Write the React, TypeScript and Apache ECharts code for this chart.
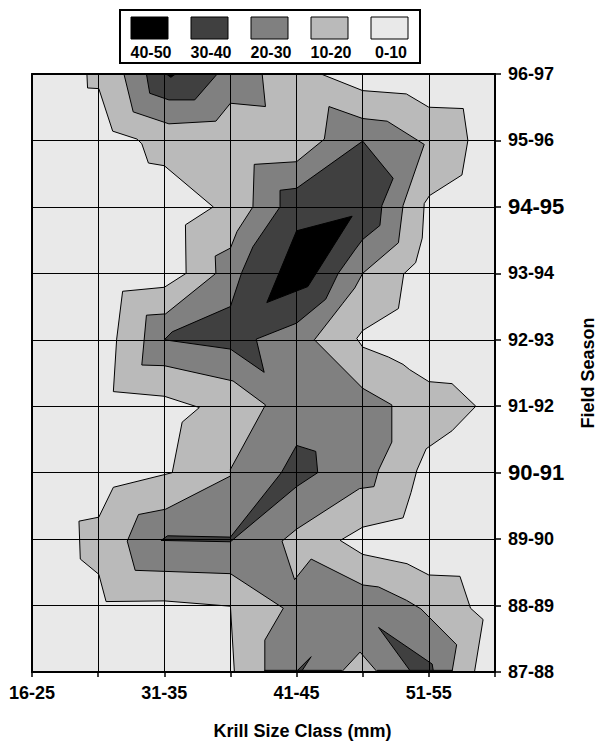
import React, { useEffect, useRef } from "react";
import * as echarts from "echarts";

// ---- data ----
const sizeClasses = ["16-25", "26-30", "31-35", "36-40", "41-45", "46-50", "51-55", "56-60"];
const seasons = ["87-88", "88-89", "89-90", "90-91", "91-92", "92-93", "93-94", "94-95", "95-96", "96-97"];
const emphasisSeasons = ["94-95", "90-91"];
const bandLabels = ["0-10", "10-20", "20-30", "30-40", "40-50"];
const bandColors = ["#e9e9e9", "#bababa", "#808080", "#404040", "#000000"];

// contour polygons, in [size class index, season index] units
const above0 = [
  [[0, 0], [7, 0], [7, 9], [0, 9]],
];
const above10 = [
  [
    [0.83, 9], [4.37, 9], [5.0, 8.75], [5.66, 8.7], [6.0, 8.5], [6.52, 8.48], [6.59, 8.0], [6.5, 7.48],
    [6.01, 7.17], [5.93, 7.05], [5.9, 6.53], [5.8, 6.16], [5.62, 5.99], [5.54, 5.47], [5.0, 5.14],
    [4.91, 5.02], [5.0, 4.89], [5.39, 4.74], [5.61, 4.63], [5.71, 4.55], [6.0, 4.37], [6.35, 4.34],
    [6.71, 4.0], [6.35, 3.63], [5.96, 3.36], [5.82, 3.04], [5.73, 2.7], [5.61, 2.32], [5.0, 2.18],
    [4.66, 1.98], [5.0, 1.77], [5.67, 1.63], [6.0, 1.46], [6.47, 1.44], [6.63, 0.96], [6.82, 0.79],
    [6.69, 0], [3.06, 0], [3.0, 0.99], [2.0, 1.07], [1.12, 1.06], [1.01, 1.47], [0.73, 1.7],
    [0.71, 2.27], [1.01, 2.33], [1.23, 2.78], [2.12, 3.0], [2.27, 3.76], [2.53, 3.98], [2.0, 4.15],
    [1.23, 4.22], [1.28, 5.01], [1.37, 5.73], [2.0, 5.79], [2.33, 6.0], [2.32, 6.73], [2.74, 7.0],
    [2.0, 7.62], [1.76, 7.66], [1.66, 7.95], [1.59, 8.02], [1.22, 8.14], [1.01, 8.78], [0.84, 8.79],
  ],
];
const above20 = [
  [[1.39, 9], [3.48, 9], [3.53, 8.51], [3.0, 8.56], [2.78, 8.29], [2.07, 8.25], [1.53, 8.43]],
  [
    [4.49, 8.51], [5.0, 8.33], [5.37, 8.29], [5.93, 7.94], [5.61, 7.02], [5.54, 6.46], [5.0, 6.0],
    [4.88, 5.78], [4.7, 5.55], [4.27, 5.0], [5.0, 4.27], [5.44, 4.02], [5.44, 3.46], [5.24, 3.04],
    [5.17, 2.79], [4.95, 2.76], [4.0, 2.15], [3.78, 1.97], [3.97, 1.39], [4.22, 1.7], [5.0, 1.31],
    [5.24, 1.28], [5.66, 1.08], [5.88, 0.95], [6.42, 0.41], [6.35, 0], [5.22, 0], [4.96, 0.3],
    [4.68, 0], [3.52, 0], [3.52, 0.48], [3.8, 0.96], [3.0, 1.48], [1.56, 1.53], [1.44, 1.97],
    [1.61, 2.37], [2.02, 2.45], [3.0, 2.95], [3.0, 3.05], [3.53, 4.02], [3.04, 4.38], [2.0, 4.61],
    [1.66, 4.62], [1.73, 5.37], [2.02, 5.39], [2.78, 6.0], [2.77, 6.26], [3.0, 6.38], [3.1, 6.63],
    [3.34, 7.0], [3.36, 7.64], [4.0, 7.68], [4.42, 8.02],
  ],
];
const above30 = [
  [[1.73, 9], [2.8, 9], [2.46, 8.61], [2.07, 8.61], [1.78, 8.71]],
  [
    [2.0, 5.0], [2.12, 5.12], [3.0, 5.5], [3.17, 6.01], [3.34, 6.4], [3.75, 7.0], [3.75, 7.25],
    [4.0, 7.28], [5.0, 7.99], [5.46, 7.43], [5.29, 7.02], [5.26, 6.72], [5.0, 6.51], [4.88, 6.35],
    [4.63, 6.0], [4.44, 5.61], [4.0, 5.25], [3.39, 5.01], [3.51, 4.51], [3.0, 4.86],
  ],
  [[1.95, 1.98], [2.05, 2.05], [3.0, 2.03], [3.77, 3.0], [4.0, 3.41], [4.29, 3.32], [4.32, 3.0], [4.0, 2.79], [3.0, 1.96]],
  [[3.99, 0], [4.22, 0.23], [4.07, 0]],
  [[5.24, 0.67], [6.05, 0.12], [6.07, 0], [5.73, 0]],
  [[3.52, 0], [4.68, 0], [4.68, 0.025], [3.52, 0.025]],
  [[5.22, 0], [6.35, 0], [6.35, 0.025], [5.22, 0.025]],
];
const above40 = [
  [[4.0, 6.64], [4.84, 6.86], [4.17, 5.8], [3.55, 5.56]],
  [[2.03, 9], [2.17, 9], [2.1, 8.95]],
];
const bandPolygons = [above0, above10, above20, above30, above40];

const FONT = '"Liberation Sans", Arial, Helvetica, sans-serif';

export default function App() {
  const ref = useRef<HTMLDivElement>(null);

  useEffect(() => {
    if (!ref.current) return;
    const chart = echarts.init(ref.current, undefined, { renderer: "svg" });

    const series = bandPolygons.map((polys, b) => ({
      type: "custom",
      name: bandLabels[b],
      xAxisIndex: 0,
      yAxisIndex: 0,
      silent: true,
      z: 2,
      data: polys.map((p) => [p[0][0], p[0][1]]),
      renderItem: (params: any, api: any) => {
        const poly = polys[params.dataIndex];
        const points = poly.map((pt) => api.coord(pt));
        return {
          type: "polygon",
          shape: { points },
          style: {
            fill: bandColors[b],
            stroke: b === 0 ? "none" : "#000",
            lineWidth: 1,
          },
        };
      },
    }));

    // legend: highest band first
    const legendOrder = bandLabels.map((_, i) => bandLabels.length - 1 - i);
    const legendGraphics: any[] = [
      {
        type: "rect",
        shape: { x: 120, y: 10, width: 300, height: 53 },
        style: { fill: "#fff", stroke: "#000", lineWidth: 2 },
      },
    ];
    legendOrder.forEach((b, i) => {
      const x = 131 + i * 60;
      legendGraphics.push({
        type: "rect",
        shape: { x, y: 17, width: 37, height: 22 },
        style: { fill: bandColors[b], stroke: "#000", lineWidth: 1 },
      });
      legendGraphics.push({
        type: "text",
        x: x + 20,
        y: 52,
        style: {
          text: bandLabels[b],
          fill: "#000",
          font: `bold 16px ${FONT}`,
          textAlign: "center",
          verticalAlign: "middle",
          textVerticalAlign: "middle",
        },
      });
    });

    const labelStyle = { color: "#000", fontSize: 18, fontWeight: "bold", fontFamily: FONT };

    chart.setOption({
      animation: false,
      backgroundColor: "#fff",
      title: {
        text: "Krill Size Class (mm)",
        left: "center",
        top: 722,
        padding: 0,
        textStyle: { ...labelStyle, fontSize: 18 },
      },
      grid: { left: 32, right: 103, top: 74, bottom: 70, containLabel: false },
      xAxis: [
        {
          type: "value",
          min: 0,
          max: sizeClasses.length - 1,
          interval: 1,
          position: "bottom",
          z: 5,
          axisLine: { show: true, onZero: false, lineStyle: { color: "#000", width: 2 } },
          axisTick: { show: true, length: 5, lineStyle: { color: "#000", width: 1.5 } },
          axisLabel: {
            ...labelStyle,
            margin: 12,
            formatter: (v: number) => {
              const i = Math.round(v);
              return i % 2 === 0 ? sizeClasses[i] : "";
            },
          },
          splitLine: { show: true, lineStyle: { color: "#000", width: 1 } },
        },
        {
          type: "value",
          min: 0,
          max: sizeClasses.length - 1,
          position: "top",
          z: 5,
          axisLine: { show: true, onZero: false, lineStyle: { color: "#000", width: 2 } },
          axisTick: { show: false },
          axisLabel: { show: false },
          splitLine: { show: false },
        },
      ],
      yAxis: [
        {
          type: "value",
          min: 0,
          max: seasons.length - 1,
          interval: 1,
          position: "right",
          z: 5,
          name: "Field Season",
          nameLocation: "middle",
          nameRotate: 90,
          nameGap: 84,
          nameTextStyle: { ...labelStyle },
          axisLine: { show: true, onZero: false, lineStyle: { color: "#000", width: 2 } },
          axisTick: { show: true, length: 6, lineStyle: { color: "#000", width: 1.5 } },
          axisLabel: {
            ...labelStyle,
            margin: 13,
            formatter: (v: number) => {
              const s = seasons[Math.round(v)];
              return emphasisSeasons.includes(s) ? `{big|${s}}` : s;
            },
            rich: {
              big: { fontSize: 22, fontWeight: "bold", fontFamily: FONT, color: "#000" },
            },
          },
          splitLine: { show: true, lineStyle: { color: "#000", width: 1 } },
        },
        {
          type: "value",
          min: 0,
          max: seasons.length - 1,
          position: "left",
          z: 5,
          axisLine: { show: true, onZero: false, lineStyle: { color: "#000", width: 2 } },
          axisTick: { show: false },
          axisLabel: { show: false },
          splitLine: { show: false },
        },
      ],
      graphic: legendGraphics,
      series,
    });

    return () => chart.dispose();
  }, []);

  return (
    <div
      ref={ref}
      style={{ position: "absolute", left: 0, top: 0, width: 605, height: 742, background: "#fff" }}
    />
  );
}
